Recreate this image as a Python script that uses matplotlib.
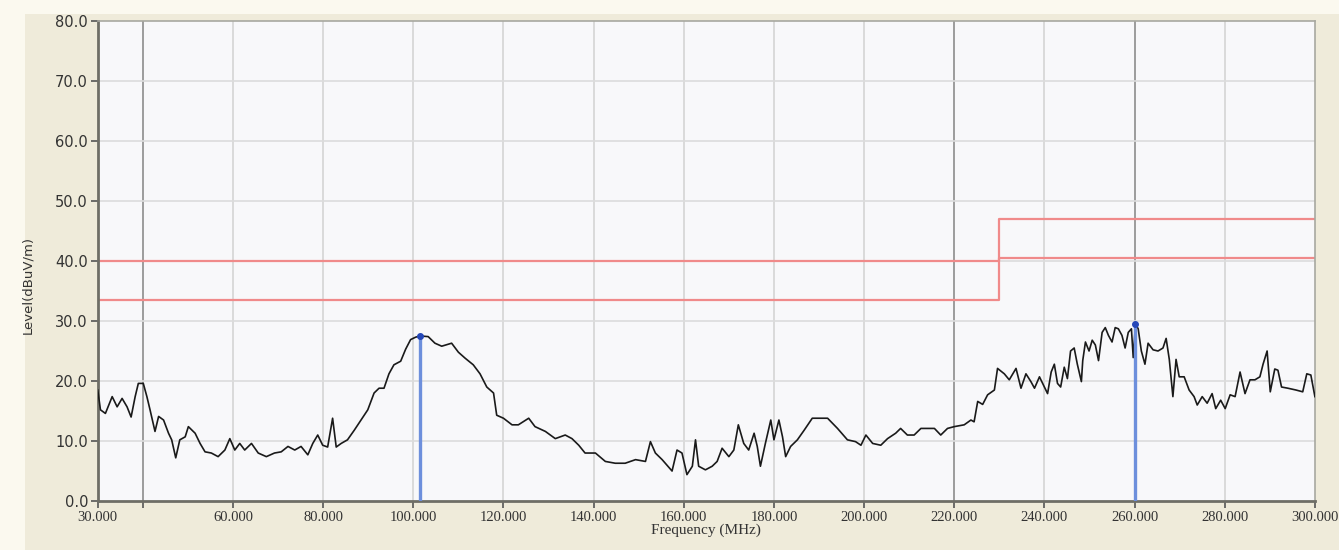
#!/usr/bin/env python3
"""Radiated emission scan 30-300 MHz with limit / margin lines and two peak markers."""

import matplotlib
matplotlib.use("Agg")
import matplotlib.pyplot as plt
from matplotlib.patches import Rectangle

# --- Data ---
freq_mhz = [
    30.0, 30.6, 31.7, 33.2, 34.3, 35.4, 36.5, 37.4, 38.3, 39.0, 40.1, 40.9, 41.6, 42.7,
    43.5, 44.6, 45.7, 46.4, 47.3, 48.2, 49.4, 50.1, 51.6, 52.7, 53.8, 55.2, 56.7, 58.2,
    59.3, 60.4, 61.5, 62.6, 64.1, 65.6, 67.4, 69.2, 70.7, 72.2, 73.7, 75.1, 76.6, 77.7,
    78.8, 79.9, 81.0, 82.1, 82.9, 84.0, 85.4, 86.9, 88.4, 89.9, 91.3, 92.4, 93.5, 94.6,
    95.7, 97.2, 98.3, 99.4, 100.5, 101.5,
    103.3, 104.8, 106.3, 108.5, 110.0, 111.5, 113.3, 114.8, 116.3, 117.8, 118.5, 120.0,
    121.9, 123.3, 125.6, 127.0, 129.3, 131.5, 133.7, 135.2, 136.7, 138.1, 140.4, 142.6,
    144.8, 147.0, 149.3, 151.5, 152.6, 153.7, 155.2, 157.4, 158.5, 159.6, 160.7, 161.9,
    162.6, 163.3, 164.8, 166.3, 167.4, 168.5, 170.0, 171.1, 172.1, 173.3,
    174.4, 175.6, 176.3, 177.0, 178.1, 179.3, 180.0, 181.1, 181.9, 182.6, 183.7, 185.2,
    186.7, 188.5, 190.0, 191.9, 194.1, 196.3, 198.1, 199.3, 200.4, 201.9, 203.7, 205.2,
    207.0, 208.1, 209.6, 211.1, 212.6, 215.6, 217.0, 218.5, 220.0, 222.2, 223.7, 224.4,
    225.2, 226.3, 227.4, 228.9, 229.6, 231.1, 232.2, 233.7, 234.8, 235.9, 237.0, 237.8,
    238.9, 239.6, 240.7, 241.5, 242.2, 242.9, 243.6, 244.4, 245.1, 245.8, 246.6, 247.3,
    248.2, 248.5, 249.1, 249.9, 250.6, 251.3, 252.0, 252.8, 253.5, 254.2, 255.0, 255.7,
    256.4, 257.2, 257.9, 258.6, 259.3, 259.7, 260.2, 260.8, 261.5, 262.3, 263.0, 264.1,
    265.2, 266.3, 267.0, 267.7, 268.5, 269.2, 269.9, 271.0, 272.1, 273.2, 273.9, 275.0,
    276.1, 277.2, 278.0, 279.1, 280.1, 281.2, 282.3, 283.4, 284.5, 285.6, 286.7, 287.8,
    288.5, 289.4, 290.1, 291.1, 291.8, 292.6, 294.0, 295.8, 297.3, 298.2, 299.1, 300.0,
]
level_dbuv = [
    18.5, 15.2, 14.6, 17.4, 15.7, 17.1, 15.7, 14.0, 17.4, 19.6, 19.6, 17.4, 15.2, 11.6,
    14.1, 13.5, 11.3, 10.2, 7.2, 10.2, 10.7, 12.4, 11.3, 9.6, 8.2, 8.0, 7.4, 8.5,
    10.4, 8.5, 9.6, 8.5, 9.6, 8.0, 7.4, 8.0, 8.2, 9.1, 8.5, 9.1, 7.7, 9.6,
    11.0, 9.3, 9.0, 13.8, 9.0, 9.6, 10.2, 11.8, 13.5, 15.2, 18.0, 18.8, 18.8, 21.2,
    22.7, 23.3, 25.3, 26.9, 27.3, 27.5,
    27.4, 26.3, 25.8, 26.3, 24.8, 23.8, 22.7, 21.2, 19.0, 18.0, 14.3, 13.8,
    12.7, 12.7, 13.8, 12.4, 11.6, 10.4, 11.0, 10.4, 9.3, 8.0, 8.0, 6.6,
    6.3, 6.3, 6.9, 6.6, 9.9, 8.0, 6.9, 5.0, 8.5, 8.0, 4.4, 5.8,
    10.2, 5.8, 5.2, 5.8, 6.6, 8.8, 7.4, 8.5, 12.7, 9.6,
    8.5, 11.3, 9.1, 5.8, 9.6, 13.5, 10.2, 13.5, 10.7, 7.4, 9.1, 10.2,
    11.8, 13.8, 13.8, 13.8, 12.1, 10.2, 9.9, 9.3, 11.0, 9.6, 9.3, 10.4,
    11.3, 12.1, 11.0, 11.0, 12.1, 12.1, 11.0, 12.1, 12.4, 12.7, 13.5, 13.2,
    16.6, 16.1, 17.7, 18.5, 22.1, 21.2, 20.2, 22.1, 18.8, 21.2, 19.9, 18.8,
    20.7, 19.6, 17.9, 21.5, 22.8, 19.6, 19.0, 22.3, 20.4, 25.0, 25.5, 22.8,
    19.9, 23.4, 26.5, 25.0, 26.8, 26.0, 23.4, 28.1, 28.9, 27.6, 26.5, 28.9,
    28.7, 27.6, 25.5, 28.1, 28.7, 23.9, 29.5, 28.7, 25.0, 22.8, 26.3, 25.2,
    25.0, 25.5, 27.1, 23.6, 17.4, 23.6, 20.7, 20.7, 18.5, 17.4, 16.0, 17.4,
    16.3, 17.9, 15.4, 16.8, 15.4, 17.7, 17.4, 21.5, 17.9, 20.2, 20.2, 20.7,
    22.8, 25.0, 18.2, 22.0, 21.8, 19.0, 18.8, 18.5, 18.2, 21.2, 21.0, 17.4,
]

# limit (upper) and margin (lower) lines, stepping at 230 MHz
limit_edges = [30, 230, 300]
limit_levels = [40.0, 47.0, 47.0]
margin_levels = [33.5, 40.5, 40.5]

# peak markers
marker_freq = [101.5, 260.2]
marker_level = [27.5, 29.5]

x_ticks = [30, 40, 60, 80, 100, 120, 140, 160, 180, 200, 220, 240, 260, 280, 300]
x_labels = ["30.000", "", "60.000", "80.000", "100.000", "120.000", "140.000", "160.000",
            "180.000", "200.000", "220.000", "240.000", "260.000", "280.000", "300.000"]
y_ticks = [0, 10, 20, 30, 40, 50, 60, 70, 80]
dark_grid = [40, 220, 260]

# --- Figure ---
fig = plt.figure(figsize=(13.39, 5.5), dpi=100, facecolor="#efebda")
# lighter window edges of the screenshot
fig.patches.append(Rectangle((0, 0), 0.019, 1, transform=fig.transFigure,
                             facecolor="#fbf9ef", edgecolor="none", zorder=-1))
fig.patches.append(Rectangle((0, 0.975), 1, 0.025, transform=fig.transFigure,
                             facecolor="#fbf9ef", edgecolor="none", zorder=-1))

ax = fig.add_axes([0.073, 0.089, 0.909, 0.873])
ax.set_facecolor("#f8f8fa")

# grid
for f in x_ticks[1:-1]:
    c = "#8c8c8c" if f in dark_grid else "#d4d4d4"
    ax.axvline(f, color=c, linewidth=1.2, zorder=1)
for lv in y_ticks[1:-1]:
    ax.axhline(lv, color="#dcdcdc", linewidth=1.2, zorder=1)

ax.step(limit_edges, limit_levels, where="post", color="#f08a8a", linewidth=1.6, zorder=2)
ax.step(limit_edges, margin_levels, where="post", color="#f08a8a", linewidth=1.6, zorder=2)

ax.plot(freq_mhz, level_dbuv, color="#1a1a1a", linewidth=1.2, zorder=3)

ax.vlines(marker_freq, 0, marker_level, color="#6d8fdc", linewidth=2.4, zorder=4)
ax.plot(marker_freq, marker_level, "o", color="#2547b8", markersize=4, zorder=5)

ax.set_xlim(30, 300)
ax.set_ylim(0, 80)
ax.set_xticks(x_ticks)
ax.set_xticklabels(x_labels, family="Liberation Serif", fontsize=10.5, color="#333333")
ax.set_yticks(y_ticks)
ax.set_yticklabels([f"{v:.1f}" for v in y_ticks], fontsize=10.5, color="#333333")
ax.tick_params(axis="both", direction="out", length=5, width=1.2, color="#555555", pad=2)

for side in ["left", "bottom"]:
    ax.spines[side].set_color("#6e6e66")
    ax.spines[side].set_linewidth(2)
for side in ["top", "right"]:
    ax.spines[side].set_color("#a8a8a0")
    ax.spines[side].set_linewidth(1.2)

ax.set_xlabel("Frequency (MHz)", family="Liberation Serif", fontsize=11, color="#333333", labelpad=0)
ax.set_ylabel("Level(dBuV/m)", fontsize=9.5, color="#333333", labelpad=8)
ax.yaxis.set_label_coords(-0.052, 0.45)

fig.savefig("out.png", dpi=100, facecolor=fig.get_facecolor())
